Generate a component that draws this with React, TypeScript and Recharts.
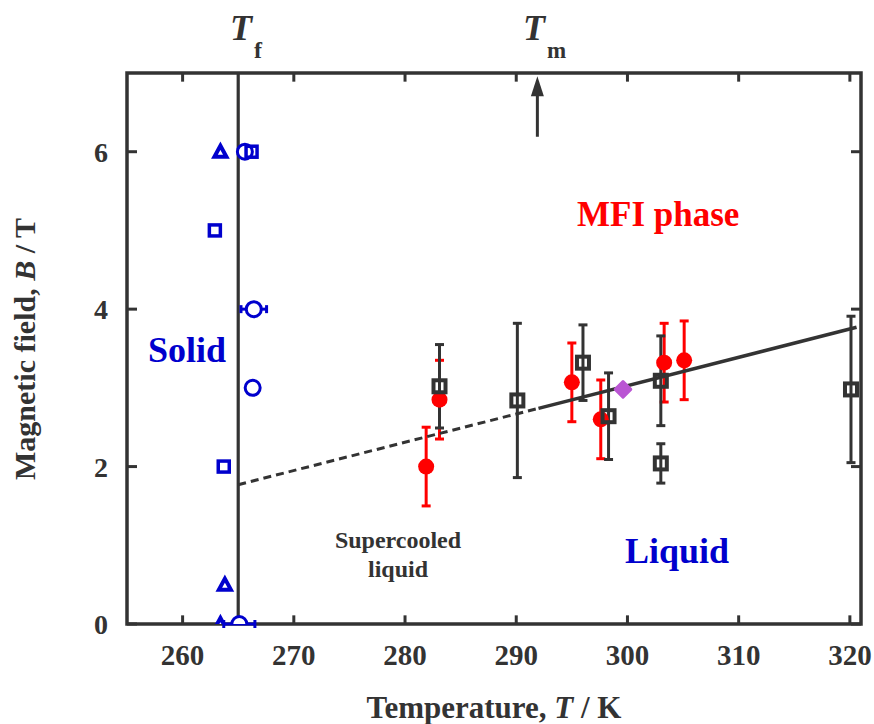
import React from 'react'
import {
  ScatterChart,
  Scatter,
  XAxis,
  YAxis,
  ErrorBar,
  ReferenceLine,
  ReferenceArea,
} from 'recharts'

// Phase diagram: magnetic field vs temperature

const FONT = '"Liberation Serif", "Times New Roman", serif'
const INK = '#333333'
const BLUE = '#0000CD'
const RED = '#FF0000'
const ORCHID = '#BA55D3'

const X_DOMAIN: [number, number] = [255, 321]
const Y_DOMAIN: [number, number] = [0, 7]
const xTicks = [260, 270, 280, 290, 300, 310, 320]
const yTicks = [0, 2, 4, 6]

const T_FREEZE = 265
const T_MELT = 291.9

// solid phase (blue open symbols)
const blueTriangles = [
  { T: 263.4, B: 6 },
  { T: 263.8, B: 0.5 },
  { T: 263.4, B: 0 },
]
const blueSquares = [
  { T: 266.2, B: 6 },
  { T: 262.9, B: 5 },
  { T: 263.7, B: 2 },
]
const blueCircles = [
  { T: 265.6, B: 6 },
  { T: 266.3, B: 3 },
]
const blueCirclesErr = [
  { T: 266.4, B: 4, err: 1.15 },
  { T: 265.1, B: 0, err: 1.4 },
]

// MFI transition points
const redCircles = [
  { T: 281.9, B: 2.0, err: 0.5 },
  { T: 283.1, B: 2.85, err: 0.5 },
  { T: 295.0, B: 3.07, err: 0.5 },
  { T: 297.6, B: 2.6, err: 0.5 },
  { T: 303.3, B: 3.32, err: 0.5 },
  { T: 305.1, B: 3.35, err: 0.5 },
]
const blackSquares = [
  { T: 283.1, B: 3.02, err: 0.53 },
  { T: 290.1, B: 2.84, err: 0.98 },
  { T: 296.0, B: 3.32, err: 0.48 },
  { T: 298.3, B: 2.64, err: 0.55 },
  { T: 303.0, B: 3.09, err: 0.57 },
  { T: 303.0, B: 2.04, err: 0.25 },
  { T: 320.1, B: 2.98, err: 0.93 },
]
const diamonds = [{ T: 299.6, B: 2.98 }]

// linear boundary, dashed in the supercooled range
const fitDashed = [
  { T: 265, B: 1.77 },
  { T: 292, B: 2.74 },
]
const fitSolid = [
  { T: 292, B: 2.74 },
  { T: 320.6, B: 3.77 },
]

const emptyShape = () => <g />

const triangleShape = (p: any) => (
  <polygon
    points={`${p.cx},${p.cy - 6} ${p.cx + 6},${p.cy + 5} ${p.cx - 6},${p.cy + 5}`}
    fill="#fff"
    stroke={BLUE}
    strokeWidth={4}
    strokeLinejoin="miter"
  />
)
const blueSquareShape = (p: any) => (
  <rect x={p.cx - 5.5} y={p.cy - 5.5} width={11} height={11} fill="none" stroke={BLUE} strokeWidth={3.5} />
)
const blueCircleShape = (p: any) => (
  <circle cx={p.cx} cy={p.cy} r={7.5} fill="#fff" stroke={BLUE} strokeWidth={3} />
)
const redCircleShape = (p: any) => <circle cx={p.cx} cy={p.cy} r={8} fill={RED} />
const blackSquareShape = (p: any) => (
  <rect x={p.cx - 6} y={p.cy - 6} width={12} height={12} fill="none" stroke={INK} strokeWidth={4} />
)
const diamondShape = (p: any) => (
  <rect
    x={p.cx - 7}
    y={p.cy - 7}
    width={14}
    height={14}
    rx={1.5}
    fill={ORCHID}
    transform={`rotate(45 ${p.cx} ${p.cy})`}
  />
)

const arrowShape = (p: any) => {
  const { x1, y1, x2, y2 } = p
  const top = Math.min(y1, y2)
  const bottom = Math.max(y1, y2)
  return (
    <g>
      <line x1={x1} y1={bottom} x2={x2} y2={top + 12} stroke={INK} strokeWidth={3} />
      <polygon points={`${x2},${top} ${x2 + 6.5},${top + 20} ${x2 - 6.5},${top + 20}`} fill={INK} />
    </g>
  )
}

const tickStyle = { fill: INK, fontSize: 29, fontWeight: 'bold', fontFamily: FONT }

export default function App() {
  const [x0, x1] = X_DOMAIN
  const [y0, y1] = Y_DOMAIN
  return (
    <div style={{ position: 'absolute', left: 0, top: 0, width: 874, height: 724, background: '#fff' }}>
      <ScatterChart width={874} height={724} margin={{ top: 73, right: 13, bottom: 40, left: 27 }}>
        <XAxis
          type="number"
          dataKey="T"
          domain={X_DOMAIN}
          ticks={xTicks}
          allowDataOverflow
          axisLine={false}
          tickLine={false}
          tickSize={0}
          tickMargin={20}
          height={60}
          tick={tickStyle}
        />
        <YAxis
          type="number"
          dataKey="B"
          domain={Y_DOMAIN}
          ticks={yTicks}
          allowDataOverflow
          axisLine={false}
          tickLine={false}
          tickSize={0}
          tickMargin={19}
          width={100}
          tick={{ ...tickStyle, fontSize: 28 }}
        />

        {/* inward ticks on all four sides */}
        {xTicks.map((t) => (
          <ReferenceLine key={`b${t}`} segment={[{ x: t, y: y0 }, { x: t, y: y0 + 0.11 }]} stroke={INK} strokeWidth={3} />
        ))}
        {xTicks.map((t) => (
          <ReferenceLine key={`t${t}`} segment={[{ x: t, y: y1 }, { x: t, y: y1 - 0.11 }]} stroke={INK} strokeWidth={3} />
        ))}
        {yTicks.map((t) => (
          <ReferenceLine key={`l${t}`} segment={[{ x: x0, y: t }, { x: x0 + 0.9, y: t }]} stroke={INK} strokeWidth={3} />
        ))}
        {yTicks.map((t) => (
          <ReferenceLine key={`r${t}`} segment={[{ x: x1, y: t }, { x: x1 - 0.9, y: t }]} stroke={INK} strokeWidth={3} />
        ))}

        <ReferenceLine x={T_FREEZE} stroke={INK} strokeWidth={3.2} />
        <ReferenceLine
          segment={[{ x: T_MELT, y: 6.19 }, { x: T_MELT, y: 6.96 }]}
          shape={arrowShape}
        />

        <Scatter data={fitDashed} line={{ stroke: INK, strokeWidth: 3, strokeDasharray: '8 5' }} shape={emptyShape} isAnimationActive={false} />
        <Scatter data={fitSolid} line={{ stroke: INK, strokeWidth: 3.5 }} shape={emptyShape} isAnimationActive={false} />

        <Scatter data={redCircles} shape={redCircleShape} isAnimationActive={false}>
          <ErrorBar dataKey="err" direction="y" width={4.5} stroke={RED} strokeWidth={3} isAnimationActive={false} />
        </Scatter>
        <Scatter data={blackSquares} shape={blackSquareShape} isAnimationActive={false}>
          <ErrorBar dataKey="err" direction="y" width={4.5} stroke={INK} strokeWidth={3} isAnimationActive={false} />
        </Scatter>
        <Scatter data={diamonds} shape={diamondShape} isAnimationActive={false} />

        <Scatter data={blueTriangles} shape={triangleShape} isAnimationActive={false} />
        <Scatter data={blueCirclesErr} shape={blueCircleShape} isAnimationActive={false}>
          <ErrorBar dataKey="err" direction="x" width={4} stroke={BLUE} strokeWidth={3} isAnimationActive={false} />
        </Scatter>
        <Scatter data={blueCircles} shape={blueCircleShape} isAnimationActive={false} />
        <Scatter data={blueSquares} shape={blueSquareShape} isAnimationActive={false} />

        <ReferenceArea x1={x0} x2={x1} y1={y0} y2={y1} fill="none" fillOpacity={0} stroke={INK} strokeWidth={3.5} />
      </ScatterChart>

      <svg
        width={874}
        height={724}
        style={{ position: 'absolute', left: 0, top: 0, pointerEvents: 'none' }}
        fontFamily={FONT}
        fontWeight="bold"
      >
        <text x={230} y={40} fontSize={36} fontStyle="italic" fill={INK}>T</text>
        <text x={254} y={58} fontSize={24} fill={INK}>f</text>
        <text x={523} y={40} fontSize={36} fontStyle="italic" fill={INK}>T</text>
        <text x={547} y={58} fontSize={23} fill={INK}>m</text>

        <text x={577} y={226} fontSize={35} fill={RED}>MFI phase</text>
        <text x={148} y={362} fontSize={36} fill={BLUE}>Solid</text>
        <text x={625} y={563} fontSize={36} fill={BLUE}>Liquid</text>
        <text x={398} y={548} fontSize={24} fill={INK} textAnchor="middle">Supercooled</text>
        <text x={398} y={577} fontSize={24} fill={INK} textAnchor="middle">liquid</text>

        <text x={494} y={718} fontSize={31} fill={INK} textAnchor="middle">
          Temperature, <tspan fontStyle="italic">T</tspan> / K
        </text>
        <text x={35} y={349} fontSize={30} fill={INK} textAnchor="middle" transform="rotate(-90 35 349)">
          Magnetic field, <tspan fontStyle="italic">B</tspan> / T
        </text>
      </svg>
    </div>
  )
}
